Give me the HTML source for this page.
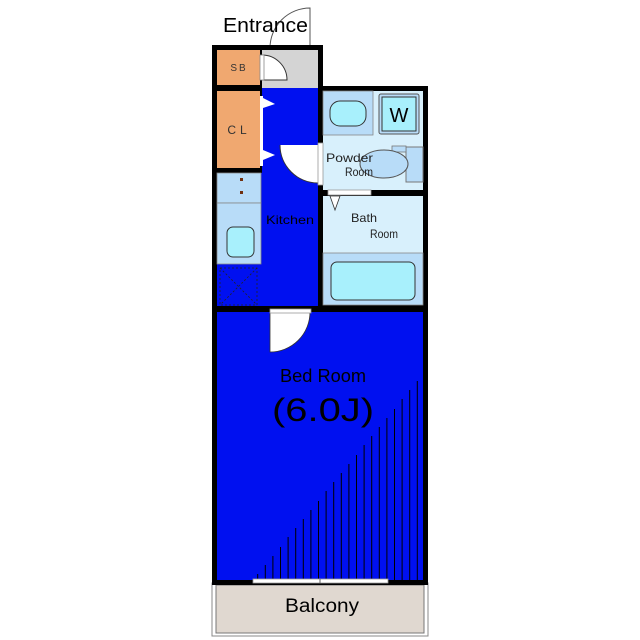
<!DOCTYPE html>
<html><head><style>html,body{margin:0;padding:0;background:#fff}svg{display:block}</style></head><body>
<svg width="640" height="640" viewBox="0 0 640 640" xmlns="http://www.w3.org/2000/svg" font-family="Liberation Sans, sans-serif">
<!-- Entrance door & text -->
<path d="M270 48 A40 40 0 0 1 310 8 L310 48" fill="none" stroke="#555" stroke-width="1"/>
<rect x="270" y="46" width="40" height="4" fill="#fff" stroke="#888" stroke-width="1"/>
<text x="223" y="32" font-size="20" fill="#000" textLength="85" lengthAdjust="spacingAndGlyphs">Entrance</text>
<!-- Balcony -->
<rect x="212" y="583" width="216" height="53" fill="#fff" stroke="#888"/>
<rect x="216" y="585" width="208" height="48" fill="#e0d8d0" stroke="#777"/>
<text x="285" y="612" font-size="19" fill="#000" textLength="74" lengthAdjust="spacingAndGlyphs">Balcony</text>
<!-- Outer walls -->
<rect x="212" y="45" width="111" height="267" fill="#000"/>
<rect x="318" y="86" width="110" height="226" fill="#000"/>
<rect x="212" y="306" width="216" height="279" fill="#000"/>
<!-- Rooms -->
<rect x="217" y="50" width="43" height="35" fill="#f0a870"/>
<rect x="217" y="91" width="43" height="77" fill="#f0a870"/>
<rect x="262" y="50" width="56" height="38" fill="#d4d4d4"/>
<rect x="262" y="88" width="56" height="218" fill="#0010f0"/>
<rect x="217" y="173" width="45" height="133" fill="#0010f0"/>
<rect x="217" y="173" width="44" height="30" fill="#b8dcf8" stroke="#888" stroke-width="0.8"/>
<rect x="217" y="203" width="44" height="61" fill="#b8dcf8" stroke="#888" stroke-width="0.8"/>
<rect x="227" y="227" width="27" height="30" rx="6" fill="#a8f0fc" stroke="#333"/>
<rect x="240" y="178" width="3" height="3" fill="#703010"/>
<rect x="240" y="191" width="3" height="3" fill="#703010"/>
<rect x="220" y="268" width="37" height="37" fill="none" stroke="#222" stroke-dasharray="2,2" stroke-width="0.8"/>
<path d="M220 268 L257 305 M257 268 L220 305" stroke="#222" stroke-dasharray="2,2" stroke-width="0.8"/>
<text x="266" y="224" font-size="12" fill="#000" textLength="48" lengthAdjust="spacingAndGlyphs">Kitchen</text>
<text x="239" y="71" font-size="10" text-anchor="middle" fill="#333" letter-spacing="2">SB</text>
<text x="239" y="134" font-size="12" text-anchor="middle" fill="#333" letter-spacing="4">CL</text>
<!-- SB door -->
<path d="M262 55 A25 25 0 0 1 287 80 L262 80 Z" fill="#fff" stroke="#333" stroke-width="1"/>
<rect x="260" y="55" width="4" height="25" fill="#fff" stroke="#888" stroke-width="0.8"/>
<!-- CL door triangles -->
<rect x="260" y="96" width="3" height="70" fill="#fff"/>
<path d="M263 98 L275 104 L263 108 Z" fill="#fff"/>
<path d="M263 150 L275 155 L263 160 Z" fill="#fff"/>
<!-- Powder room -->
<rect x="323" y="91" width="100" height="99" fill="#d8f0fc"/>
<rect x="323" y="91" width="50" height="44" fill="#b8dcf8" stroke="#888" stroke-width="0.8"/>
<rect x="330" y="101" width="36" height="25" rx="10" fill="#a8f0fc" stroke="#333"/>
<rect x="379" y="94" width="40" height="40" rx="2" fill="#b8dcf8" stroke="#555"/>
<rect x="382" y="97" width="34" height="34" fill="#a8f0fc" stroke="#333"/>
<text x="399" y="122" font-size="20" text-anchor="middle" fill="#000">W</text>
<rect x="406" y="147" width="17" height="35" fill="#b8dcf8" stroke="#777"/>
<rect x="392" y="146" width="14" height="6" fill="#b8dcf8" stroke="#777" stroke-width="0.8"/>
<ellipse cx="384" cy="164" rx="24" ry="14" fill="#b8dcf8" stroke="#555"/>
<text x="326" y="162" font-size="12" fill="#222" textLength="47" lengthAdjust="spacingAndGlyphs">Powder</text>
<text x="345" y="176" font-size="12" fill="#222" textLength="28" lengthAdjust="spacingAndGlyphs">Room</text>
<!-- Powder door -->
<path d="M280 145 A38 38 0 0 0 318 183 L318 145 Z" fill="#fff"/>
<path d="M280 145 A38 38 0 0 0 318 183" fill="none" stroke="#333"/>
<rect x="318" y="143" width="5" height="42" fill="#fff" stroke="#999" stroke-width="0.8"/>
<!-- Bath -->
<rect x="323" y="196" width="100" height="109" fill="#d8f0fc"/>
<rect x="323" y="253" width="100" height="52" fill="#b8dcf8" stroke="#888" stroke-width="0.8"/>
<rect x="331" y="262" width="84" height="38" rx="6" fill="#a8f0fc" stroke="#333"/>
<rect x="328" y="190" width="43" height="5" fill="#fff" stroke="#999" stroke-width="0.8"/>
<path d="M330 196 L340 196 L335 210 Z" fill="#fff" stroke="#333" stroke-width="0.8"/>
<text x="351" y="222" font-size="12" fill="#222" textLength="26" lengthAdjust="spacingAndGlyphs">Bath</text>
<text x="370" y="238" font-size="12" fill="#222" textLength="28" lengthAdjust="spacingAndGlyphs">Room</text>
<!-- Bed room -->
<rect x="217" y="312" width="206" height="268" fill="#0010f0"/>
<path d="M270 312 L310 312 A40 40 0 0 1 270 352 Z" fill="#fff" stroke="#333" stroke-width="0.8"/>
<rect x="270" y="309" width="41" height="4" fill="#fff" stroke="#999" stroke-width="0.8"/>
<g stroke="#000" stroke-width="1">
<path d="M257.7 580V574M265.3 580V565M272.9 580V556M280.5 580V547M288.1 580V537M295.7 580V528M303.3 580V519M310.9 580V510M318.5 580V501M326.1 580V491M333.7 580V482M341.3 580V473M348.9 580V464M356.5 580V455M364.1 580V445M371.7 580V436M379.3 580V427M386.9 580V418M394.5 580V409M402.1 580V399M409.7 580V390M417.3 580V381"/>
</g>
<text x="280" y="382" font-size="18" fill="#000" textLength="86" lengthAdjust="spacingAndGlyphs">Bed Room</text>
<text x="272" y="421" font-size="32" fill="#000" textLength="102" lengthAdjust="spacingAndGlyphs">(6.0J)</text>
<!-- Window at bottom -->
<rect x="253" y="579" width="135" height="4" fill="#fff" stroke="#999" stroke-width="0.8"/>
<line x1="320" y1="579" x2="320" y2="583" stroke="#666"/>
</svg>
</body></html>
